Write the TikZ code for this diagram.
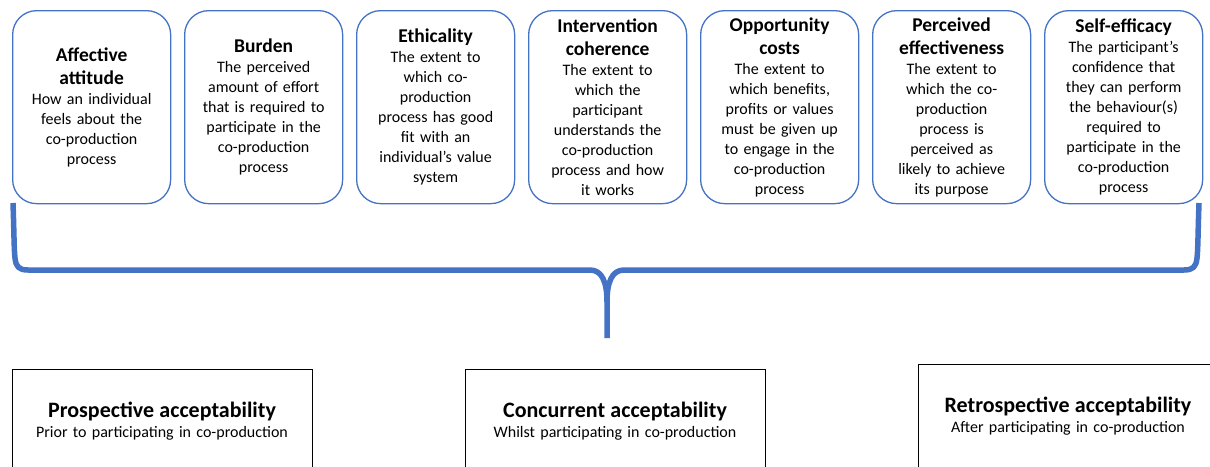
\documentclass[tikz,border=0pt]{standalone}
\usepackage{fontspec}
\setmainfont{Carlito}
\definecolor{accblue}{HTML}{4472C4}
\newcommand\boxtitle[1]{{\fontsize{19.5}{23}\selectfont\bfseries #1\par}}
\newcommand\bottitle[1]{{\fontsize{22}{26}\selectfont\bfseries #1\par}}
\begin{document}
\begin{tikzpicture}[x=1pt,y=-1pt,
  topbox/.style={draw=accblue, line width=1.3pt, rounded corners=24pt,
    minimum width=158pt, minimum height=193pt, text width=156pt,
    align=center, inner sep=0pt, anchor=north west,
    font=\fontsize{16}{20}\selectfont},
  botbox/.style={draw=black, line width=1.2pt, minimum width=300pt,
    minimum height=140pt, inner sep=0pt, anchor=north west},
  bottext/.style={text width=296pt, align=center, inner sep=0pt,
    font=\fontsize{16}{20}\selectfont},
  brace/.style={draw=accblue, line width=5.5pt, line join=round}
]
\useasboundingbox (0,0) rectangle (1210,466);
\clip (0,0) rectangle (1210,466);

\node[topbox] (b1) at (12,10) {\boxtitle{Affective\\attitude}How an individual\\feels about the\\co-production\\process};
\node[topbox] (b2) at (184,10) {\boxtitle{Burden}The perceived\\amount of effort\\that is required to\\participate in the\\co-production\\process};
\node[topbox] (b3) at (356,10) {\boxtitle{Ethicality}The extent to\\which co-\\production\\process has good\\fit with an\\individual’s value\\system};
\node[topbox] (b4) at (528,10) {\boxtitle{Intervention\\coherence}The extent to\\which the\\participant\\understands the\\co-production\\process and how\\it works};
\node[topbox] (b5) at (700,10) {\boxtitle{Opportunity\\costs}The extent to\\which benefits,\\profits or values\\must be given up\\to engage in the\\co-production\\process};
\node[topbox] (b6) at (872,10) {\boxtitle{Perceived\\effectiveness}The extent to\\which the co-\\production\\process is\\perceived as\\likely to achieve\\its purpose};
\node[topbox] (b7) at (1044,10) {\boxtitle{Self-efficacy}The participant’s\\confidence that\\they can perform\\the behaviour(s)\\required to\\participate in the\\co-production\\process};

\coordinate (bl) at (13,203);
\coordinate (br) at (1199,203);
\coordinate (tip) at (607,338);

\draw[brace] (bl) .. controls (14,230) and (14,250) .. (15,258) .. controls (16,267) and (19,270) .. (28,270)
  -- (590,270) .. controls (602,270) and (607,282) .. (607,302) -- (tip);
\draw[brace] (br) .. controls (1198,230) and (1198,250) .. (1197,258) .. controls (1196,267) and (1193,270) .. (1184,270)
  -- (624,270) .. controls (612,270) and (607,282) .. (607,302);

\node[botbox] (pa) at (12,369) {};
\node[botbox] (ca) at (465,369) {};
\node[botbox] (ra) at (918,364) {};
\node[bottext] (pat) at (162,421) {\bottitle{Prospective acceptability}Prior to participating in co-production};
\node[bottext] (cat) at (615,421) {\bottitle{Concurrent acceptability}Whilst participating in co-production};
\node[bottext] (rat) at (1068,416) {\bottitle{Retrospective acceptability}After participating in co-production};
\end{tikzpicture}
\end{document}
